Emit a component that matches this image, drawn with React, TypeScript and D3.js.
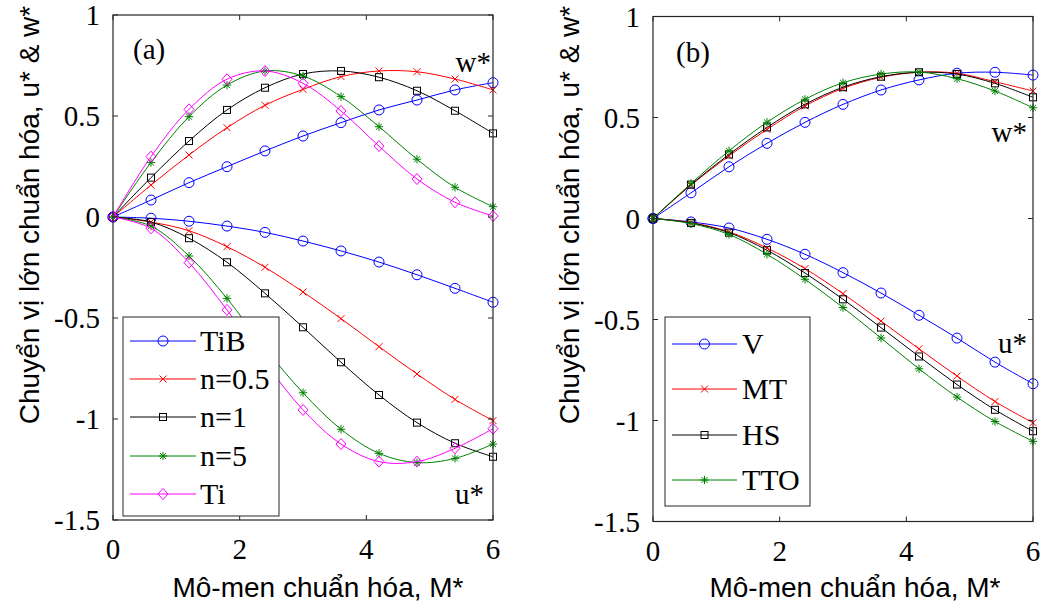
import React from "react";
import * as d3 from "d3";

// Normalised moment M* at which the displacements are sampled
const moment = [0, 0.6, 1.2, 1.8, 2.4, 3.0, 3.6, 4.2, 4.8, 5.4, 6.0];
const xTicks = [0, 2, 4, 6];
const yTicks = [1, 0.5, 0, -0.5, -1, -1.5];

// Panel (a): material gradation
const labelsA = ["TiB", "n=0.5", "n=1", "n=5", "Ti"];
const wTiB = [0, 0.084, 0.170, 0.249, 0.327, 0.401, 0.467, 0.530, 0.579, 0.629, 0.665];
const wN05 = [0, 0.158, 0.307, 0.442, 0.553, 0.632, 0.695, 0.723, 0.719, 0.683, 0.629];
const wN1 = [0, 0.195, 0.376, 0.530, 0.640, 0.708, 0.723, 0.692, 0.625, 0.526, 0.414];
const wN5 = [0, 0.270, 0.497, 0.653, 0.723, 0.698, 0.596, 0.447, 0.286, 0.147, 0.051];
const wTi = [0, 0.299, 0.533, 0.682, 0.723, 0.662, 0.525, 0.351, 0.188, 0.073, 0.005];
const uTiB = [0, -0.006, -0.021, -0.045, -0.076, -0.119, -0.168, -0.223, -0.286, -0.353, -0.422];
const uN05 = [0, -0.025, -0.068, -0.147, -0.249, -0.371, -0.503, -0.642, -0.777, -0.903, -1.008];
const uN1 = [0, -0.025, -0.105, -0.224, -0.378, -0.546, -0.719, -0.881, -1.018, -1.120, -1.187];
const uN5 = [0, -0.045, -0.193, -0.403, -0.650, -0.870, -1.051, -1.170, -1.216, -1.195, -1.124];
const uTi = [0, -0.056, -0.226, -0.460, -0.720, -0.955, -1.124, -1.211, -1.211, -1.145, -1.048];

// Panel (b): homogenisation schemes
const labelsB = ["V", "MT", "HS", "TTO"];
const wV = [0, 0.127, 0.256, 0.372, 0.476, 0.565, 0.636, 0.686, 0.719, 0.724, 0.710];
const wMT = [0, 0.165, 0.310, 0.441, 0.557, 0.644, 0.699, 0.724, 0.719, 0.677, 0.631];
const wHS = [0, 0.168, 0.317, 0.451, 0.565, 0.650, 0.702, 0.724, 0.715, 0.669, 0.600];
const wTTO = [0, 0.173, 0.335, 0.476, 0.590, 0.672, 0.715, 0.725, 0.692, 0.631, 0.548];
const uV = [0, -0.017, -0.047, -0.103, -0.177, -0.268, -0.369, -0.479, -0.592, -0.711, -0.818];
const uMT = [0, -0.020, -0.066, -0.146, -0.248, -0.372, -0.508, -0.645, -0.780, -0.906, -1.011];
const uHS = [0, -0.022, -0.070, -0.157, -0.270, -0.400, -0.540, -0.683, -0.822, -0.947, -1.053];
const uTTO = [0, -0.025, -0.079, -0.177, -0.301, -0.441, -0.592, -0.744, -0.884, -1.005, -1.103];

type MarkerKind = "circle" | "cross" | "square" | "star" | "diamond";

interface Series {
  label: string;
  color: string;
  marker: MarkerKind;
  w: number[];
  u: number[];
}

const seriesA: Series[] = [
  { label: labelsA[0], color: "#0000ff", marker: "circle", w: wTiB, u: uTiB },
  { label: labelsA[1], color: "#ff0000", marker: "cross", w: wN05, u: uN05 },
  { label: labelsA[2], color: "#000000", marker: "square", w: wN1, u: uN1 },
  { label: labelsA[3], color: "#008000", marker: "star", w: wN5, u: uN5 },
  { label: labelsA[4], color: "#ff00ff", marker: "diamond", w: wTi, u: uTi },
];

const seriesB: Series[] = [
  { label: labelsB[0], color: "#0000ff", marker: "circle", w: wV, u: uV },
  { label: labelsB[1], color: "#ff0000", marker: "cross", w: wMT, u: uMT },
  { label: labelsB[2], color: "#000000", marker: "square", w: wHS, u: uHS },
  { label: labelsB[3], color: "#008000", marker: "star", w: wTTO, u: uTTO },
];

const SERIF = "'Liberation Serif', 'Times New Roman', serif";
const SANS = "'Liberation Sans', Arial, sans-serif";
const AXIS = "#262626";

function Marker({ kind, x, y, color }: { kind: MarkerKind; x: number; y: number; color: string }) {
  const sw = 1;
  switch (kind) {
    case "circle":
      return <circle cx={x} cy={y} r={5} fill="none" stroke={color} strokeWidth={sw} />;
    case "cross":
      return (
        <path
          d={`M${x - 3.5},${y - 3.5}L${x + 3.5},${y + 3.5}M${x - 3.5},${y + 3.5}L${x + 3.5},${y - 3.5}`}
          stroke={color}
          strokeWidth={sw}
        />
      );
    case "square":
      return <rect x={x - 3.5} y={y - 3.5} width={7} height={7} fill="none" stroke={color} strokeWidth={sw} />;
    case "star": {
      const r = 4.2;
      const d = r * 0.7071;
      return (
        <path
          d={`M${x - r},${y}L${x + r},${y}M${x},${y - r}L${x},${y + r}M${x - d},${y - d}L${x + d},${y + d}M${x - d},${y + d}L${x + d},${y - d}`}
          stroke={color}
          strokeWidth={sw}
        />
      );
    }
    case "diamond":
      return (
        <path
          d={`M${x},${y - 5.5}L${x + 5},${y}L${x},${y + 5.5}L${x - 5},${y}Z`}
          fill="none"
          stroke={color}
          strokeWidth={sw}
        />
      );
  }
}

interface PanelProps {
  left: number;
  right: number;
  top: number;
  bottom: number;
  series: Series[];
  tag: string;
  tagPos: [number, number];
  wPos: [number, number];
  uPos: [number, number];
  legend: { x0: number; y0: number; x1: number; y1: number; rows: number[]; lineX0: number; lineX1: number; textX: number };
  yLabelX: number;
  yLabelY: number;
  xLabelX: number;
}

function Panel(p: PanelProps) {
  const x = d3.scaleLinear().domain([0, 6]).range([p.left, p.right]);
  const y = d3.scaleLinear().domain([-1.5, 1]).range([p.bottom, p.top]);
  const line = d3
    .line<number>()
    .x((_, i) => x(moment[i]))
    .y((v) => y(v))
    .curve(d3.curveCatmullRom.alpha(0.5));
  const tickLen = 5;
  const fs = 29;

  return (
    <g>
      {/* curves with markers */}
      {p.series.map((s) => (
        <g key={s.label}>
          {[s.w, s.u].map((vals, k) => (
            <g key={k}>
              <path d={line(vals) || ""} fill="none" stroke={s.color} strokeWidth={1} />
              {vals.map((v, i) => (
                <Marker key={i} kind={s.marker} x={x(moment[i])} y={y(v)} color={s.color} />
              ))}
            </g>
          ))}
        </g>
      ))}

      {/* axes box */}
      <rect
        x={p.left}
        y={p.top}
        width={p.right - p.left}
        height={p.bottom - p.top}
        fill="none"
        stroke={AXIS}
        strokeWidth={1.2}
      />
      {xTicks.map((t) => (
        <g key={"x" + t}>
          <line x1={x(t)} x2={x(t)} y1={p.bottom} y2={p.bottom - tickLen} stroke={AXIS} />
          <line x1={x(t)} x2={x(t)} y1={p.top} y2={p.top + tickLen} stroke={AXIS} />
          <text x={x(t)} y={p.bottom + 39} textAnchor="middle" fontFamily={SERIF} fontSize={fs} fill="#000">
            {t}
          </text>
        </g>
      ))}
      {yTicks.map((t) => (
        <g key={"y" + t}>
          <line x1={p.left} x2={p.left + tickLen} y1={y(t)} y2={y(t)} stroke={AXIS} />
          <line x1={p.right} x2={p.right - tickLen} y1={y(t)} y2={y(t)} stroke={AXIS} />
          <text x={p.left - 13} y={y(t) + 10} textAnchor="end" fontFamily={SERIF} fontSize={fs} fill="#000">
            {t}
          </text>
        </g>
      ))}

      {/* axis titles */}
      <text
        x={p.xLabelX}
        y={597}
        textAnchor="middle"
        fontFamily={SANS}
        fontSize={28}
        fill="#000"
      >
        Mô-men chuẩn hóa, M*
      </text>
      <text
        transform={`translate(${p.yLabelX},${p.yLabelY}) rotate(-90)`}
        textAnchor="middle"
        fontFamily={SANS}
        fontSize={28}
        fill="#000"
      >
        Chuyển vị lớn chuẩn hóa, u* &amp; w*
      </text>

      {/* annotations */}
      <text x={p.tagPos[0]} y={p.tagPos[1]} fontFamily={SERIF} fontSize={fs} fill="#000">
        {p.tag}
      </text>
      <text x={p.wPos[0]} y={p.wPos[1]} textAnchor="end" fontFamily={SERIF} fontSize={fs} fill="#000">
        w*
      </text>
      <text x={p.uPos[0]} y={p.uPos[1]} textAnchor="end" fontFamily={SERIF} fontSize={fs} fill="#000">
        u*
      </text>

      {/* legend */}
      <rect
        x={p.legend.x0}
        y={p.legend.y0}
        width={p.legend.x1 - p.legend.x0}
        height={p.legend.y1 - p.legend.y0}
        fill="#fff"
        stroke={AXIS}
        strokeWidth={1}
      />
      {p.series.map((s, i) => {
        const ry = p.legend.rows[i];
        const mx = (p.legend.lineX0 + p.legend.lineX1) / 2;
        return (
          <g key={"lg" + s.label}>
            <line x1={p.legend.lineX0} x2={p.legend.lineX1} y1={ry} y2={ry} stroke={s.color} strokeWidth={1} />
            <Marker kind={s.marker} x={mx} y={ry} color={s.color} />
            <text x={p.legend.textX} y={ry + 10} fontFamily={SERIF} fontSize={30} fill="#000">
              {s.label}
            </text>
          </g>
        );
      })}
    </g>
  );
}

export default function App() {
  return (
    <svg
      width={1045}
      height={608}
      viewBox="0 0 1045 608"
      style={{ position: "absolute", left: 0, top: 0, background: "#fff" }}
    >
      <rect x={0} y={0} width={1045} height={608} fill="#fff" />
      <Panel
        left={113}
        right={493}
        top={15}
        bottom={520}
        series={seriesA}
        tag="(a)"
        tagPos={[133, 59]}
        wPos={[491, 72]}
        uPos={[484, 504]}
        legend={{ x0: 123, y0: 317, x1: 279, y1: 516, rows: [341, 379, 417, 456, 494], lineX0: 130, lineX1: 196, textX: 200 }}
        yLabelX={39}
        yLabelY={215}
        xLabelX={318}
      />
      <Panel
        left={653}
        right={1033}
        top={16.5}
        bottom={521.5}
        series={seriesB}
        tag="(b)"
        tagPos={[676, 62]}
        wPos={[1027, 142]}
        uPos={[1027, 353]}
        legend={{ x0: 665, y0: 317, x1: 810, y1: 506, rows: [344, 389, 435, 480], lineX0: 672, lineX1: 737, textX: 742 }}
        yLabelX={579}
        yLabelY={215}
        xLabelX={855}
      />
    </svg>
  );
}
